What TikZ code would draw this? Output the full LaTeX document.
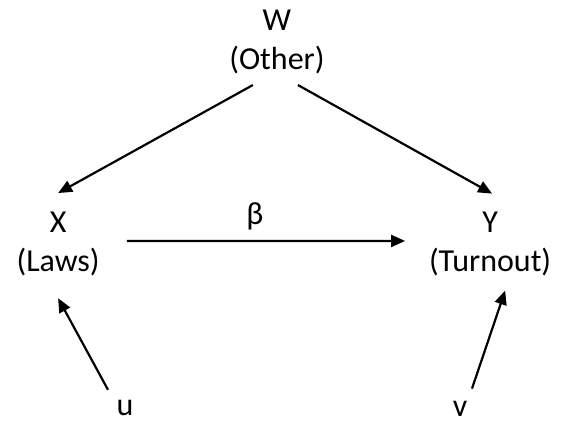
\documentclass[tikz,border=0pt]{standalone}
\usepackage{fontspec}
\setmainfont{Carlito}
\usepackage{xcolor}
\usepackage{tikz}
\usetikzlibrary{arrows.meta,positioning,calc}
\definecolor{inkline}{HTML}{000000}

\begin{document}
\begin{tikzpicture}[font=\fontsize{32bp}{39bp}\selectfont,
  var/.style={align=center,inner sep=0pt},
  arr/.style={draw=inkline,line width=2.2bp,-{Triangle[length=14bp,width=12bp]}}]
  \useasboundingbox (0,0) rectangle (19.79,14.92);
  % variables
  \node[var] (w) at (9.77,13.44) {W\\(Other)};
  \node[var] (x) at (2.05,6.31) {X\\(Laws)};
  \node[var] (y) at (17.29,6.33) {Y\\(Turnout)};
  \node[var] (u) at (4.41,0.53) {u};
  \node[var] (v) at (16.23,0.50) {v};
  % paths
  \draw[arr] ([shift={(-0.85,-1.52)}]w.center) -- ([shift={(0,1.80)}]x.center);
  \draw[arr] ([shift={(0.74,-1.52)}]w.center) -- ([shift={(0.07,1.76)}]y.center);
  \draw[arr] ([shift={(2.43,0.11)}]x.center) -- node[var,pos=0.46,above=0.35cm] (beta) {β} ([shift={(-3.00,0.09)}]y.center);
  \draw[arr] ([shift={(-0.60,0.64)}]u.center) -- ([shift={(0,-1.91)}]x.center);
  \draw[arr] ([shift={(0.42,0.71)}]v.center) -- ([shift={(0.53,-1.66)}]y.center);
\end{tikzpicture}
\end{document}
